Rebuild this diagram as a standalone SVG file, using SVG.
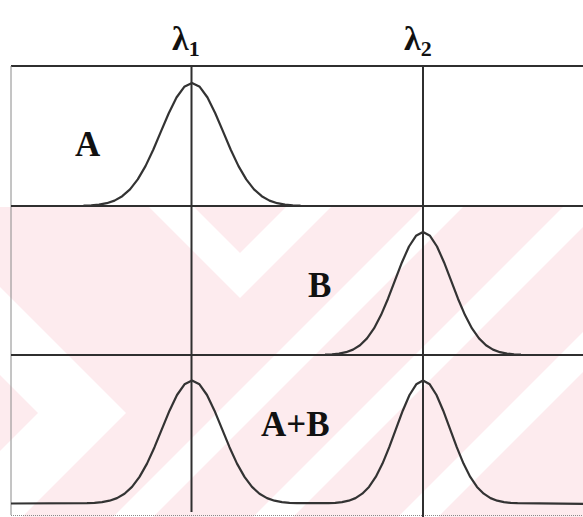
<svg xmlns="http://www.w3.org/2000/svg" width="583" height="517" viewBox="0 0 583 517">
<style>
.ln{fill:none;stroke:#2f2f2f;stroke-width:2;stroke-linejoin:round;stroke-linecap:butt}
.thin{fill:none;stroke:#8a8a8a;stroke-width:1}
.crv{fill:none;stroke:#333;stroke-width:2.2;stroke-linejoin:round}
.lbl{font-family:"Liberation Serif","Times New Roman",serif;font-weight:bold;font-size:35px;fill:#111}
.lam{font-family:"Liberation Serif","Times New Roman",serif;font-weight:bold;font-size:34px;fill:#111}
.sub{font-size:22px}
.wm{fill:#fdebee}
.wh{fill:#ffffff}
</style>
<rect width="583" height="517" fill="#ffffff"/>
<g id="watermark">
<rect class="wm" x="0" y="207" width="583" height="310"/>
<polygon class="wh" points="149,207 240,298 331,207 286,207 240,253 194,207"/>
<polygon class="wh" points="0,287 126,413 22,517 0,517 0,451 38,413 0,375"/>
<polygon class="wh" points="423,207 463,207 153,517 113,517"/>
<polygon class="wh" points="563,207 603,207 293,517 253,517"/>
<polygon class="wh" points="708,207 748,207 438,517 398,517"/>
</g>
<g id="frame">
<path class="ln" d="M11,66 H583"/>
<path class="thin" d="M11,66 V515"/>
<path class="thin" d="M11,515.5 H583" stroke-dasharray="1,1"/>
</g>
<g id="connectors">
<path class="ln" d="M11,206 H583"/>
<path class="ln" d="M11,355 H583"/>
<path class="ln" d="M191.5,66 V512"/>
<path class="ln" d="M423,66 V517"/>
</g>
<g id="curveA">
<path class="crv" d="M83.5,205.7 L91.25,205.4 L99,204.6 L106.75,203.2 L114.5,200.6 L122.25,196.2 L130,189.4 L137.75,179.4 L145.5,166.1 L153.25,149.7 L161,131.4 L168.75,113.2 L176.5,97.5 L184.25,86.8 L192,83 L199.75,86.8 L207.5,97.5 L215.25,113.2 L223,131.4 L230.75,149.7 L238.5,166.1 L246.25,179.4 L254,189.4 L261.75,196.2 L269.5,200.6 L277.25,203.2 L285,204.6 L292.75,205.4 L300.5,205.7"/>
<text class="lbl" x="75" y="156">A</text>
</g>
<g id="curveB">
<path class="crv" d="M325,354.7 L332,354.4 L339,353.6 L346,352.2 L353,349.6 L360,345.2 L367,338.4 L374,328.4 L381,315.1 L388,298.7 L395,280.4 L402,262.2 L409,246.5 L416,235.8 L423,232 L430,235.8 L437,246.5 L444,262.2 L451,280.4 L458,298.7 L465,315.1 L472,328.4 L479,338.4 L486,345.2 L493,349.6 L500,352.2 L507,353.6 L514,354.4 L521,354.7"/>
<text class="lbl" x="308" y="297">B</text>
</g>
<g id="curveAB">
<path class="crv" d="M11,503.5 L87,503.2 L94.5,502.9 L102,502.1 L109.5,500.7 L117,498.1 L124.5,493.7 L132,486.9 L139.5,476.9 L147,463.6 L154.5,447.2 L162,428.9 L169.5,410.7 L177,395 L184.5,384.3 L192,380.5 L199.5,384.3 L207,395 L214.5,410.7 L222,428.9 L229.5,447.2 L237,463.6 L244.5,476.9 L252,486.9 L259.5,493.7 L267,498.1 L274.5,500.7 L282,502.1 L289.5,502.9 L297,503.2 L328.5,503.2 L335.25,502.9 L342,502.1 L348.75,500.7 L355.5,498.1 L362.25,493.7 L369,486.9 L375.75,476.9 L382.5,463.6 L389.25,447.2 L396,428.9 L402.75,410.7 L409.5,395 L416.25,384.3 L423,380.5 L429.75,384.3 L436.5,395 L443.25,410.7 L450,428.9 L456.75,447.2 L463.5,463.6 L470.25,476.9 L477,486.9 L483.75,493.7 L490.5,498.1 L497.25,500.7 L504,502.1 L510.75,502.9 L517.5,503.2 L583,503.8"/>
<text class="lbl" x="261" y="436">A+B</text>
</g>
<g id="lambda1">
<text class="lam" x="172" y="50">λ<tspan class="sub" dy="6">1</tspan></text>
</g>
<g id="lambda2">
<text class="lam" x="404" y="50">λ<tspan class="sub" dy="6">2</tspan></text>
</g>
</svg>
